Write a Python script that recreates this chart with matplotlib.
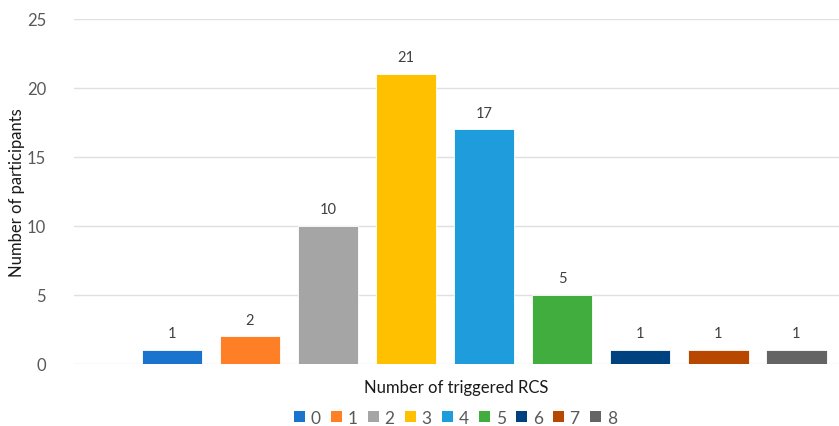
import matplotlib

matplotlib.use("Agg")
import matplotlib.pyplot as plt
from matplotlib.patches import Patch

plt.rcParams.update({"font.family": ["Lato", "DejaVu Sans"]})

# Data: number of participants per count of triggered RCS.
categories = ["0", "1", "2", "3", "4", "5", "6", "7", "8"]
participants = [1, 2, 10, 21, 17, 5, 1, 1, 1]
colors = ["#1A73CC", "#FF7F27", "#A5A5A5", "#FFC000", "#1F9CDB",
          "#41AD3F", "#00427F", "#B84700", "#646464"]
yticks = [0, 5, 10, 15, 20, 25]

GRID = "#E0E0E0"
TICK = "#595959"
LABEL = "#404040"

fig = plt.figure(figsize=(8.39, 4.27), dpi=100)
ax = fig.add_axes([0.0882, 0.1452, 0.9118, 0.808])

xs = list(range(len(categories)))
ax.bar(xs, participants, width=0.78, color=colors,
       edgecolor="white", linewidth=0.6, zorder=3)
for x, v in zip(xs, participants):
    ax.annotate(str(v), (x, v), xytext=(0, 7), textcoords="offset points",
                ha="center", va="bottom", fontsize=10.5, color=LABEL)

ax.set_xlim(-1.256, 8.55)
ax.set_ylim(0, 25)
ax.set_yticks(yticks)
ax.set_xticks([])
ax.yaxis.grid(True, color=GRID, linewidth=1, zorder=0)
for s in ax.spines.values():
    s.set_visible(False)
ax.tick_params(axis="y", length=0, pad=20, labelsize=12, labelcolor=TICK)

ax.set_ylabel("Number of participants", fontsize=12, color="#1a1a1a")
ax.yaxis.set_label_coords(-0.064, 0.5)
ax.set_xlabel("Number of triggered RCS", fontsize=12, color="#1a1a1a", labelpad=11)

handles = [Patch(facecolor=c, edgecolor="none") for c in colors]
fig.legend(handles, categories, loc="center", bbox_to_anchor=(0.543, 0.019),
           ncol=len(categories), frameon=False, fontsize=12.5,
           handlelength=0.6, handleheight=0.6, handletextpad=0.35,
           columnspacing=0.6, labelcolor=TICK, borderpad=0.1)

fig.savefig("out.png", dpi=100, facecolor="white")
